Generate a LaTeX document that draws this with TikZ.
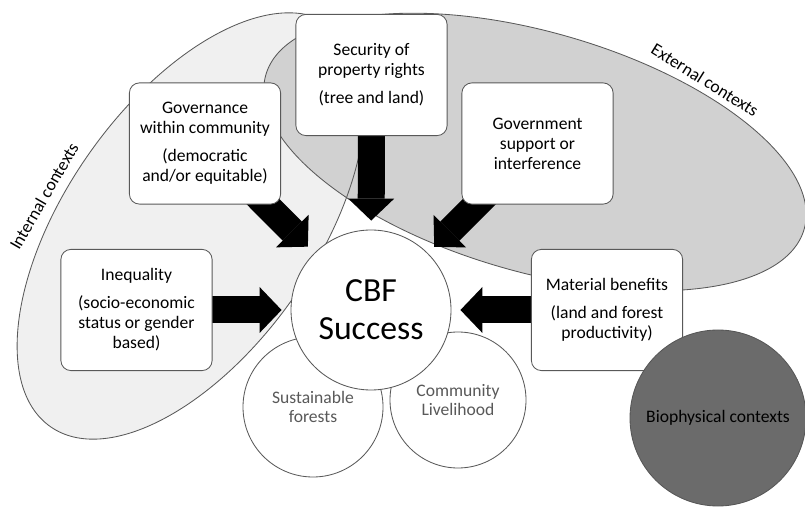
\documentclass[tikz,border=0pt]{standalone}
\usepackage{fontspec}
\setmainfont{Carlito}
\usepackage{tikz}
\usetikzlibrary{arrows.meta}
\definecolor{intgray}{gray}{0.94}
\definecolor{extgray}{gray}{0.82}
\definecolor{rim}{gray}{0.35}
\definecolor{biogray}{gray}{0.42}
\newcommand{\ctxfont}{\fontsize{12.5}{14}\selectfont}
\tikzstyle{factor}=[draw=rim, fill=white, rounded corners=2.5mm, line width=.6pt,
                    minimum width=37.8mm, minimum height=30.3mm, inner sep=0pt,
                    align=center, font=\fontsize{12.5}{14.2}\selectfont]
\tikzstyle{goal}=[circle, draw=rim, fill=white, line width=.6pt, inner sep=0pt,
                    align=center]
\tikzstyle{push}=[line width=6.75mm, shorten >=2.25mm,
                    -{Triangle[length=5.5mm, width=11.5mm, line width=0pt]}]
\pgfdeclarelayer{back}
\pgfsetlayers{back,main}

\begin{document}
\begin{tikzpicture}[x=.25mm, y=-.25mm]
    \useasboundingbox (0,0) rectangle (805,507);
    \coordinate (int) at (191,226);
    \coordinate (ext) at (535,152);
    % outcome circles
    \node[goal, minimum size=35mm, text=black!65, font=\ctxfont] (sust) at (313,407)
      {Sustainable\\forests};
    \node[goal, minimum size=34mm, text=black!65, font=\ctxfont] (live) at (458,400)
      {Community\\Livelihood};
    \node[goal, minimum size=40mm, font=\fontsize{24}{27}\selectfont] (cbf) at (371,310)
      {CBF\\Success};
    % factors
    \node[factor] (sec) at (371.5,75) {Security of\\property rights\\[5.7pt](tree and land)};
    \node[factor] (gov) at (205,143.5)
      {Governance\\within community\\[5.7pt](democratic\\and/or equitable)};
    \node[factor] (govt) at (537.5,143.5) {Government\\support or\\interference};
    \node[factor] (ineq) at (136.5,310)
      {Inequality\\[5.7pt](socio-economic\\status or gender\\based)};
    \node[factor] (mat) at (607,310) {Material benefits\\[5.7pt](land and forest\\productivity)};
    \node[circle, fill=biogray, draw=biogray!80!black, line width=.6pt, minimum size=44mm,
      font=\ctxfont] (bio) at (718,418) {Biophysical contexts};
    % context labels
    \node[font=\ctxfont, rotate=60] (intlab) at (44,196) {Internal contexts};
    \node[font=\ctxfont, rotate=-32] (extlab) at (705,80) {External contexts};
    \begin{pgfonlayer}{back}
      \fill[intgray, rotate around={55:(int)}] (int) ellipse [x radius=245, y radius=125];
      \fill[extgray, rotate around={-16:(ext)}] (ext) ellipse [x radius=280, y radius=120];
      \draw[rim, line width=.6pt, rotate around={55:(int)}] (int)
        ellipse [x radius=245, y radius=125];
      \draw[rim, line width=.6pt, rotate around={-16:(ext)}] (ext)
        ellipse [x radius=280, y radius=120];
      \foreach \from in {sec, gov, govt, ineq, mat}
        \draw[push] (\from.center) -- (cbf);
    \end{pgfonlayer}
\end{tikzpicture}
\end{document}
